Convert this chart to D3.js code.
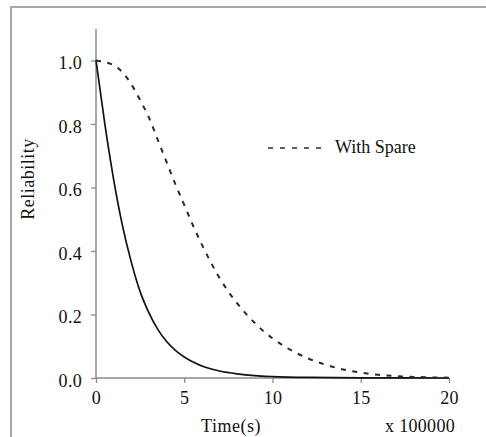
<!DOCTYPE html>
<html>
<head>
<meta charset="utf-8">
<script src="https://cdn.jsdelivr.net/npm/d3@7"></script>
<style>
  html, body { margin: 0; padding: 0; background: #fff; }
  svg { display: block; }
  text { font-family: "Liberation Serif", "Times New Roman", serif; fill: #111; }
</style>
</head>
<body>
<svg id="chart" width="486" height="437"></svg>
<script>
// Time in units of 100000 s
const timeBasic = [0, 0.5, 1, 1.5, 2, 2.5, 3, 3.5, 4, 4.5, 5, 6, 7, 8, 9, 10, 12, 15, 20];
const relBasic  = [1.0, 0.80, 0.625, 0.48, 0.365, 0.272, 0.205, 0.153, 0.115, 0.087, 0.066, 0.038, 0.022, 0.013, 0.0075, 0.0045, 0.0017, 0.0004, 0.0];

const timeSpare = [0, 0.5, 1, 1.5, 2, 2.5, 3, 3.5, 4, 4.5, 5, 5.5, 6, 6.5, 7, 7.5, 8, 8.5, 9, 9.5, 10, 10.5, 11, 12, 13, 14, 15, 16, 17, 18, 19, 20];
const relSpare  = [1.0, 0.995, 0.985, 0.963, 0.925, 0.875, 0.82, 0.75, 0.68, 0.61, 0.545, 0.48, 0.42, 0.365, 0.315, 0.272, 0.235, 0.202, 0.173, 0.147, 0.125, 0.106, 0.089, 0.062, 0.042, 0.027, 0.017, 0.010, 0.006, 0.0035, 0.002, 0.001];

const xTicks = [0, 5, 10, 15, 20];
const yTicks = [0.0, 0.2, 0.4, 0.6, 0.8, 1.0];
const legendLabel = "With Spare";
const xLabel = "Time(s)";
const xUnit = "x 100000";
const yLabel = "Reliability";

const svg = d3.select("#chart");
const fontSize = "18px";

// frame
svg.append("path")
  .attr("d", "M11,437 V7 H486")
  .attr("fill", "none")
  .attr("stroke", "#a8a8a8")
  .attr("stroke-width", 2);

const x = d3.scaleLinear().domain([0, 20]).range([96, 449]);
const y = d3.scaleLinear().domain([0, 1.1]).range([378, 28.7]);

const axisColor = "#8a8a8a";

// Y axis
const yAxis = svg.append("g").attr("transform", "translate(96,0)")
  .call(d3.axisLeft(y).tickValues(yTicks).tickFormat(d3.format(".1f")).tickSize(5).tickPadding(9));
yAxis.select(".domain").attr("stroke", axisColor).attr("stroke-width", 1.5).attr("d", `M0,${y(1.1)}V${y(0)}`);
yAxis.selectAll(".tick line").attr("stroke", axisColor).attr("stroke-width", 1.3);
yAxis.selectAll(".tick text")
  .style("font-family", '"Liberation Serif", serif').style("font-size", fontSize)
  .attr("fill", "#111").attr("dy", "0.45em").style("letter-spacing", "0.3px");

// X axis
const xAxis = svg.append("g").attr("transform", "translate(0,378)")
  .call(d3.axisBottom(x).tickValues(xTicks).tickFormat(d3.format("d")).tickSize(5).tickPadding(8));
xAxis.select(".domain").attr("stroke", axisColor).attr("stroke-width", 1.5).attr("d", `M${x(0)},0H${x(20)}`);
xAxis.selectAll(".tick line").attr("stroke", axisColor).attr("stroke-width", 1.3);
xAxis.selectAll(".tick text")
  .style("font-family", '"Liberation Serif", serif').style("font-size", fontSize)
  .attr("fill", "#111").style("letter-spacing", "0.3px");

// curves
const lineGen = d3.line().x(d => x(d[0])).y(d => y(d[1])).curve(d3.curveMonotoneX);

svg.append("path")
  .datum(timeBasic.map((t, i) => [t, relBasic[i]]))
  .attr("d", lineGen)
  .attr("fill", "none")
  .attr("stroke", "#111")
  .attr("stroke-width", 1.7);

svg.append("path")
  .datum(timeSpare.map((t, i) => [t, relSpare[i]]))
  .attr("d", lineGen)
  .attr("fill", "none")
  .attr("stroke", "#2a2a2a")
  .attr("stroke-width", 2)
  .attr("stroke-dasharray", "5,6.5");

// legend
svg.append("line")
  .attr("x1", 268).attr("x2", 324).attr("y1", 148).attr("y2", 148)
  .attr("stroke", "#2a2a2a").attr("stroke-width", 1.6)
  .attr("stroke-dasharray", "5,7");
svg.append("text")
  .attr("x", 335).attr("y", 153)
  .style("font-size", fontSize)
  .text(legendLabel);

// axis titles
svg.append("text")
  .attr("x", 231).attr("y", 432)
  .attr("text-anchor", "middle")
  .style("font-size", fontSize).style("letter-spacing", "0.5px")
  .text(xLabel);
svg.append("text")
  .attr("x", 455).attr("y", 432)
  .attr("text-anchor", "end")
  .style("font-size", fontSize).style("letter-spacing", "0.3px")
  .text(xUnit);
svg.append("text")
  .attr("transform", "translate(34,179) rotate(-90)")
  .attr("text-anchor", "middle")
  .style("font-size", fontSize).style("letter-spacing", "0.5px")
  .text(yLabel);
</script>
</body>
</html>
